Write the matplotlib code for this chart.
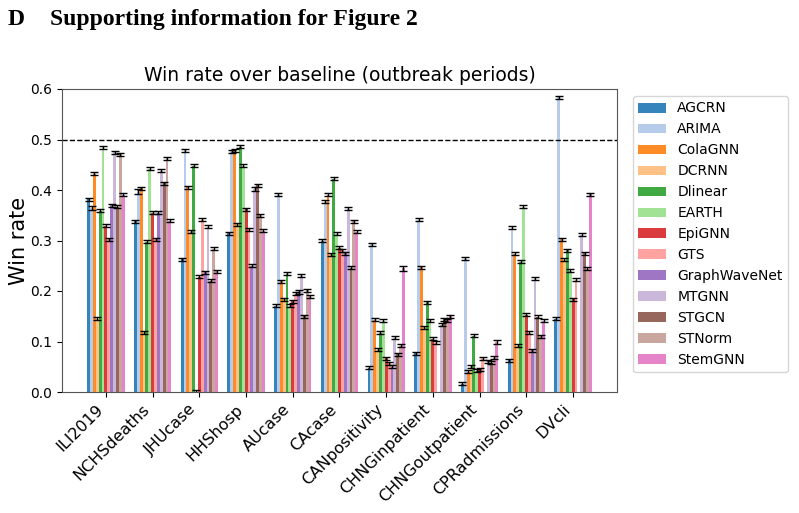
import numpy as np
import matplotlib
matplotlib.use("Agg")
import matplotlib.pyplot as plt

datasets = ["ILI2019", "NCHSdeaths", "JHUcase", "HHShosp", "AUcase", "CAcase",
            "CANpositivity", "CHNGinpatient", "CHNGoutpatient", "CPRadmissions", "DVcli"]
models = ["AGCRN", "ARIMA", "ColaGNN", "DCRNN", "Dlinear", "EARTH", "EpiGNN",
          "GTS", "GraphWaveNet", "MTGNN", "STGCN", "STNorm", "StemGNN"]

nan = np.nan
# win rate per model, one value per dataset (same order as datasets)
AGCRN        = [0.382, 0.338, 0.263, 0.314, 0.171, 0.300, 0.048, 0.077, 0.016, 0.063, 0.145]
ARIMA        = [0.364, 0.397, 0.479, 0.477, 0.391, 0.377, 0.293, 0.341, 0.264, 0.325, 0.584]
ColaGNN      = [0.432, 0.403, 0.405, 0.479, 0.219, 0.391, 0.143, 0.247, 0.040, 0.274, 0.302]
DCRNN        = [0.145, 0.117, 0.317, 0.332, 0.184, 0.273, 0.084, 0.128, 0.050, 0.092, 0.262]
Dlinear      = [0.359, 0.298, 0.448, 0.486, 0.234, 0.422, 0.117, 0.178, 0.111, 0.258, 0.281]
EARTH        = [0.485, 0.442, 0.000, 0.448, 0.171, 0.313, 0.141, 0.141, 0.042, 0.367, 0.240]
EpiGNN       = [0.329, 0.355, 0.228, 0.362, 0.180, 0.286, 0.067, 0.105, 0.044, 0.153, 0.184]
GTS          = [0.302, 0.302, 0.341, 0.322, 0.195, 0.281, 0.057, 0.098, 0.067, 0.117, 0.222]
GraphWaveNet = [0.370, 0.355, 0.237, 0.250, 0.198, 0.275, 0.050, nan,   nan,   0.083, nan]
MTGNN        = [0.475, 0.438, 0.327, 0.402, 0.230, 0.363, 0.107, 0.133, 0.061, 0.225, 0.311]
STGCN        = [0.367, 0.413, 0.220, 0.409, 0.150, 0.246, 0.075, 0.143, 0.058, 0.149, 0.275]
STNorm       = [0.471, 0.463, 0.284, 0.350, 0.201, 0.338, 0.092, 0.142, 0.068, 0.110, 0.244]
StemGNN      = [0.391, 0.339, 0.239, 0.319, 0.190, 0.317, 0.245, 0.150, 0.099, 0.141, 0.392]

values = [AGCRN, ARIMA, ColaGNN, DCRNN, Dlinear, EARTH, EpiGNN, GTS,
          GraphWaveNet, MTGNN, STGCN, STNorm, StemGNN]

# standard errors: small everywhere, a few larger ones
err_default = 0.003
err_extra = {("CANpositivity", "StemGNN"): 0.005,
             ("ILI2019", "ARIMA"): 0.004,
             ("NCHSdeaths", "ARIMA"): 0.004}

fig = plt.figure(figsize=(7.99, 5.13), dpi=100)
ax = fig.add_axes([62 / 799, 1 - 392 / 513, 555 / 799, 303 / 513])

colors = plt.get_cmap("tab20").colors
n = len(models)
w = 0.8 / n
x = np.arange(len(datasets))

for j, (m, vals) in enumerate(zip(models, values)):
    errs = [err_extra.get((d, m), err_default) for d in datasets]
    errs = [e if not np.isnan(v) else nan for e, v in zip(errs, vals)]
    ax.bar(x + (j - (n - 1) / 2) * w, vals, w, yerr=errs, color=colors[j], alpha=0.9,
           label=m, capsize=3, error_kw=dict(ecolor="black", elinewidth=1, capthick=1))

ax.axhline(0.5, color="black", linestyle="--", linewidth=1)
ax.set_ylim(0, 0.6)
ax.set_yticks(np.arange(0, 0.61, 0.1))
ax.set_xticks(x)
ax.set_xticklabels(datasets, rotation=45, ha="right", fontsize=11.5)
ax.tick_params(axis="y", labelsize=10)
ax.set_ylabel("Win rate", fontsize=15, labelpad=1)
ax.set_title("Win rate over baseline (outbreak periods)", fontsize=13.5)
for s in ax.spines.values():
    s.set_color("#555555")

ax.legend(loc="upper left", bbox_to_anchor=(1.016, 1.0), fontsize=10)

fig.text(0.010, 0.951, "D", fontsize=17, fontweight="bold", family="Liberation Serif")
fig.text(0.0626, 0.951, "Supporting information for Figure 2", fontsize=17,
         fontweight="bold", family="Liberation Serif")

fig.savefig("out.png", dpi=100)
